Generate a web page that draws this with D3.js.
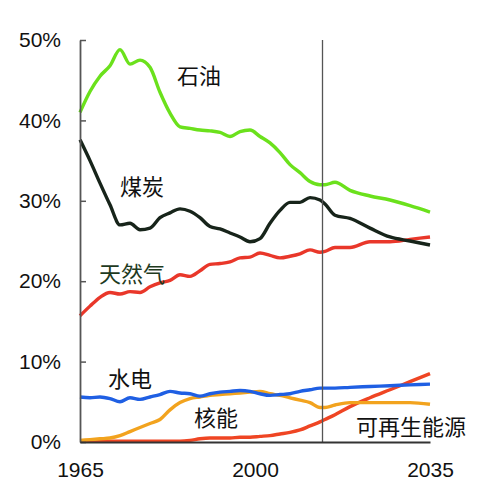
<!DOCTYPE html>
<html>
<head>
<meta charset="utf-8">
<script src="https://cdn.jsdelivr.net/npm/d3@7"></script>
<style>
  body { margin: 0; background: #fff; }
  .axis text { font-family: "Liberation Sans", Arial, sans-serif; font-size: 21px; fill: #111; }
  .lbl { font-family: "Noto Sans CJK SC", sans-serif; font-size: 22px; fill: #111; }
</style>
</head>
<body>
<div id="chart-area"></div>
<script>
// years (history to ~2013, outlook to 2035)
var years = [1965, 1967, 1969, 1971, 1973, 1975, 1977, 1979, 1981, 1983, 1985, 1987, 1989, 1991, 1993,
    1995, 1997, 1999, 2001, 2003, 2005, 2007, 2009, 2011, 2013, 2014, 2016, 2019, 2023, 2027, 2031, 2035];

// share of primary energy, %
var oil = [41.0, 43.6, 45.5, 46.8, 48.8, 47.0, 47.5, 46.6, 43.5, 40.9, 39.2, 39.0, 38.8, 38.7, 38.5,
    38.0, 38.6, 38.8, 38.0, 37.2, 36.0, 34.5, 33.5, 32.4, 32.0, 32.0, 32.3, 31.3, 30.6, 30.1, 29.4, 28.6];
var coal = [37.6, 35.0, 32.2, 29.5, 27.0, 27.2, 26.4, 26.6, 27.9, 28.5, 29.0, 28.7, 27.9, 26.8, 26.5,
    26.0, 25.5, 24.9, 25.3, 27.2, 28.8, 29.8, 29.8, 30.4, 30.1, 29.6, 28.2, 27.8, 26.6, 25.5, 25.0, 24.5];
var gas = [15.7, 16.9, 18.0, 18.6, 18.4, 18.7, 18.6, 19.3, 19.8, 20.1, 20.8, 20.6, 21.3, 22.1, 22.2,
    22.4, 22.9, 23.0, 23.5, 23.2, 22.9, 23.1, 23.4, 23.9, 23.6, 23.7, 24.2, 24.2, 24.9, 24.9, 25.2, 25.5];
var hydro = [5.6, 5.5, 5.6, 5.4, 5.0, 5.5, 5.3, 5.6, 5.9, 6.3, 6.1, 6.0, 5.7, 6.0, 6.2,
    6.3, 6.4, 6.3, 6.0, 5.8, 5.9, 6.0, 6.3, 6.5, 6.7, 6.7, 6.7, 6.8, 6.9, 7.0, 7.1, 7.2];
var nuclear = [0.2, 0.3, 0.4, 0.5, 0.8, 1.3, 1.8, 2.3, 2.8, 4.0, 4.9, 5.4, 5.6, 5.8, 5.9,
    6.0, 6.1, 6.2, 6.3, 6.0, 5.8, 5.5, 5.2, 4.9, 4.3, 4.3, 4.6, 4.9, 4.9, 4.9, 4.9, 4.7];
var renew = [0.1, 0.1, 0.1, 0.1, 0.1, 0.1, 0.1, 0.1, 0.1, 0.1, 0.1, 0.2, 0.4, 0.5, 0.5,
    0.5, 0.6, 0.6, 0.7, 0.8, 1.0, 1.2, 1.5, 2.0, 2.5, 2.8, 3.4, 4.4, 5.5, 6.5, 7.5, 8.5];

var xTicks = [1965, 2000, 2035];
var yTicks = [0, 10, 20, 30, 40, 50];
var splitYear = 2013.5;

var series = [
    { name: "可再生能源", values: renew, color: "#ef4523" },
    { name: "核能", values: nuclear, color: "#f2a31e" },
    { name: "水电", values: hydro, color: "#1f5fe3" },
    { name: "天然气", values: gas, color: "#e9372a" },
    { name: "煤炭", values: coal, color: "#17241a" },
    { name: "石油", values: oil, color: "#6be11c" }
];

var margin = { left: 80, right: 70, top: 40, bottom: 51 };
var width = 500 - margin.left - margin.right;
var height = 493 - margin.top - margin.bottom;

var svg = d3.select("#chart-area")
    .append("svg")
    .attr("width", 500)
    .attr("height", 493);

var g = svg.append("g")
    .attr("transform", "translate(" + margin.left + "," + margin.top + ")");

var x = d3.scaleLinear().domain([1965, 2035]).range([0, width]);
var y = d3.scaleLinear().domain([0, 50]).range([height, 0]);

// lines
var line = d3.line()
    .x(function(d) { return x(d[0]); })
    .y(function(d) { return y(d[1]); })
    .curve(d3.curveMonotoneX);

series.forEach(function(s) {
    g.append("path")
        .datum(years.map(function(yr, i) { return [yr, s.values[i]]; }))
        .attr("fill", "none")
        .attr("stroke", s.color)
        .attr("stroke-width", 3.4)
        .attr("stroke-linejoin", "round")
        .attr("d", line);
});

// history / outlook divider
g.append("line")
    .attr("x1", x(splitYear)).attr("x2", x(splitYear))
    .attr("y1", y(50)).attr("y2", y(0))
    .attr("stroke", "#555")
    .attr("stroke-width", 1.3);

// axes
var yAxis = g.append("g")
    .attr("class", "axis")
    .call(d3.axisLeft(y).tickValues(yTicks)
        .tickFormat(function(d) { return d + "%"; })
        .tickSizeInner(-6).tickSizeOuter(0).tickPadding(19));
yAxis.select(".domain").attr("stroke", "#555").attr("stroke-width", 1.8);
yAxis.selectAll(".tick line").attr("stroke", "#555").attr("stroke-width", 1.5);

var xAxis = g.append("g")
    .attr("class", "axis")
    .attr("transform", "translate(0," + height + ")")
    .call(d3.axisBottom(x).tickValues(xTicks)
        .tickFormat(d3.format("d"))
        .tickSize(0).tickPadding(20));
xAxis.select(".domain").attr("stroke", "#333").attr("stroke-width", 1.8);

// labels
var labels = [
    { text: "石油", x: 177, y: 84, color: "#111" },
    { text: "煤炭", x: 120, y: 195, color: "#111" },
    { text: "天然气", x: 99, y: 282, color: "#1e3a1e" },
    { text: "水电", x: 108, y: 387, color: "#111" },
    { text: "核能", x: 194, y: 426, color: "#111" },
    { text: "可再生能源", x: 356, y: 435, color: "#111" }
];

svg.selectAll(".lbl")
    .data(labels)
    .enter().append("text")
    .attr("class", "lbl")
    .attr("x", function(d) { return d.x; })
    .attr("y", function(d) { return d.y; })
    .style("fill", function(d) { return d.color; })
    .text(function(d) { return d.text; });
</script>
</body>
</html>
